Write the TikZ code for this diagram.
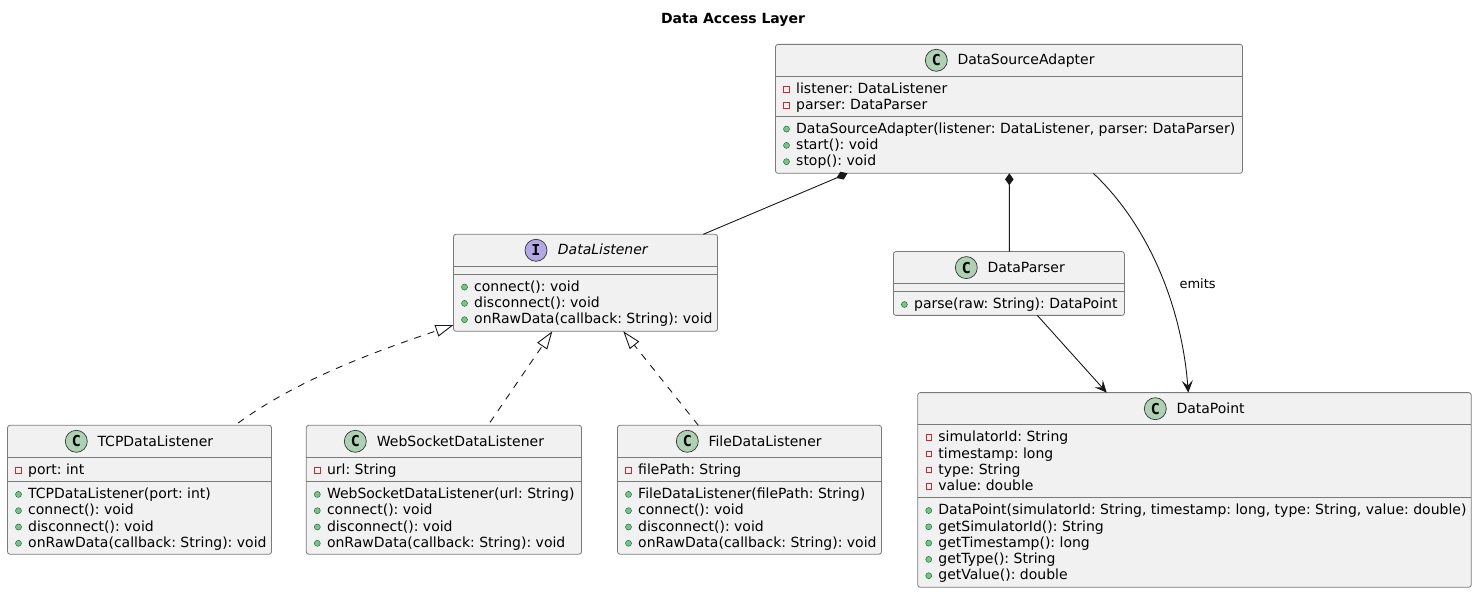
\documentclass[tikz,border=0pt]{standalone}
\usepackage{fontspec}
\setmainfont{DejaVu Sans}
\newfontfamily\iconfont{DejaVu Sans Mono}
\usetikzlibrary{arrows.meta,calc}
\definecolor{boxfill}{HTML}{F1F1F1}
\definecolor{boxline}{HTML}{7A7A7A}
\definecolor{edgeline}{HTML}{181818}
\definecolor{classicon}{HTML}{ADD1B2}
\definecolor{ifaceicon}{HTML}{B4A7E5}
\definecolor{privred}{HTML}{C82930}
\definecolor{pubfill}{HTML}{84BE84}
\definecolor{publine}{HTML}{038048}
\tikzset{
  umlframe/.style={draw=boxline,fill=boxfill,line width=0.8pt,rounded corners=2.5pt,inner sep=0pt,outer sep=0pt,anchor=north west},
  sepline/.style={draw=boxline,line width=0.8pt},
  iconbase/.style={circle,minimum size=22pt,inner sep=0pt,draw=edgeline!70!boxline,line width=0.7pt,font=\iconfont\bfseries\fontsize{15}{15}\selectfont},
  heading/.style={inner sep=0pt,anchor=base west,font=\fontsize{14}{16}\selectfont},
  member/.style={inner sep=0pt,anchor=base west,font=\fontsize{14}{16}\selectfont,text=black},
  privmark/.style={rectangle,minimum size=5.6pt,inner sep=0pt,draw=privred,line width=0.7pt},
  pubmark/.style={circle,minimum size=6pt,inner sep=0pt,draw=publine,fill=pubfill,line width=0.5pt},
  edge/.style={draw=edgeline,line width=0.9pt},
  composed/.style={edge,{Diamond[length=12pt,width=8.5pt]}-},
  arrowto/.style={edge,-{Stealth[length=12pt,width=11pt,inset=5pt]}},
  realize/.style={edge,dash pattern=on 7pt off 7pt,-{Triangle[open,length=18pt,width=12pt,fill=white]}},
}
\newcounter{rowc}
% id, left, top, right, bottom, header line y, divider y
\newcommand\umlframe[7]{%
  \pgfmathsetmacro\frW{#4-#2}\pgfmathsetmacro\frH{#5-#3}%
  \node[umlframe,minimum width=\frW pt,minimum height=\frH pt] (#1) at (#2,#3) {};
  \draw[sepline] (#2,#6) -- (#4,#6);
  \draw[sepline] (#2,#7) -- (#4,#7);
  \xdef\cL{#2}%
}
% id, icon x, icon y, name x, name baseline y, text
\newcommand\classhead[6]{%
  \node[iconbase,fill=classicon] (#1icon) at (#2,#3) {C};
  \node[heading] (#1name) at (#4,#5) {#6};
}
\newcommand\ifacehead[6]{%
  \node[iconbase,fill=ifaceicon] (#1icon) at (#2,#3) {I};
  \node[heading,font=\fontsize{14}{16}\selectfont\itshape] (#1name) at (#4,#5) {#6};
}
\newcommand\startrows[1]{\xdef\cY{#1}}
\newcommand\nextrow{\pgfmathsetmacro\tmpY{\cY+16.3}\xdef\cY{\tmpY}}
\newcommand\pv[1]{%
  \stepcounter{rowc}%
  \node[privmark] (mark\arabic{rowc}) at (\cL+11,\cY-4.4) {};
  \node[member] (row\arabic{rowc}) at (\cL+20.5,\cY) {#1};
  \nextrow
}
\newcommand\pb[1]{%
  \stepcounter{rowc}%
  \node[pubmark] (mark\arabic{rowc}) at (\cL+11,\cY-4.2) {};
  \node[member] (row\arabic{rowc}) at (\cL+20.5,\cY) {#1};
  \nextrow
}
\frenchspacing
\begin{document}
\begin{tikzpicture}[x=1pt,y=-1pt]
\useasboundingbox (0,0) rectangle (1477,593);
\node[inner sep=0pt,anchor=base,font=\bfseries\fontsize{14}{16}\selectfont] (title) at (733,24) {Data Access Layer};

\umlframe{dsa}{775.5}{44.4}{1242.5}{173.3}{76.3}{116}
\classhead{dsa}{936.3}{60.3}{957.3}{65}{DataSourceAdapter}
\startrows{93.6}\pv{listener: DataListener}\pv{parser: DataParser}
\startrows{133.3}\pb{DataSourceAdapter(listener: DataListener, parser: DataParser)}\pb{start(): void}\pb{stop(): void}

\umlframe{dl}{453.5}{234.3}{717.5}{331.3}{266.3}{274}
\ifacehead{dl}{536}{250.3}{557.7}{255}{DataListener}
\startrows{291.3}\pb{connect(): void}\pb{disconnect(): void}\pb{onRawData(callback: String): void}

\umlframe{dparser}{893.4}{251.6}{1124.4}{315.4}{283.4}{291.4}
\classhead{dparser}{966.3}{267.6}{987.3}{272.2}{DataParser}
\startrows{308.7}\pb{parse(raw: String): DataPoint}

\umlframe{dpoint}{917.7}{392.6}{1471.2}{587.3}{424.5}{497.4}
\classhead{dpoint}{1155.3}{408.7}{1176.3}{413.2}{DataPoint}
\startrows{441.8}\pv{simulatorId: String}\pv{timestamp: long}\pv{type: String}\pv{value: double}
\startrows{514.7}\pb{DataPoint(simulatorId: String, timestamp: long, type: String, value: double)}\pb{getSimulatorId(): String}\pb{getTimestamp(): long}\pb{getType(): String}\pb{getValue(): double}

\umlframe{tcp}{7.5}{425.3}{271.5}{554.2}{457.3}{481.3}
\classhead{tcp}{76.3}{441.3}{97.3}{446}{TCPDataListener}
\startrows{474.6}\pv{port: int}
\startrows{498.6}\pb{TCPDataListener(port: int)}\pb{connect(): void}\pb{disconnect(): void}\pb{onRawData(callback: String): void}

\umlframe{ws}{306.3}{425.3}{581.5}{554.2}{457.3}{481.3}
\classhead{ws}{355.3}{441.3}{376.7}{446}{WebSocketDataListener}
\startrows{474.6}\pv{url: String}
\startrows{498.6}\pb{WebSocketDataListener(url: String)}\pb{connect(): void}\pb{disconnect(): void}\pb{onRawData(callback: String): void}

\umlframe{file}{617.5}{425.3}{881.5}{554.2}{457.3}{481.3}
\classhead{file}{687.3}{441.3}{708.3}{446}{FileDataListener}
\startrows{474.6}\pv{filePath: String}
\startrows{498.6}\pb{FileDataListener(filePath: String)}\pb{connect(): void}\pb{disconnect(): void}\pb{onRawData(callback: String): void}

% composition
\draw[composed] ([xshift=72pt]dsa.south west) -- ([xshift=249.8pt]dl.north west);
\draw[composed] ([xshift=233.8pt]dsa.south west) -- ([xshift=115.9pt]dparser.north west);
% associations
\draw[arrowto] ([xshift=143.9pt]dparser.south west) -- ([xshift=189pt]dpoint.north west);
\draw[arrowto] ([xshift=317.8pt]dsa.south west) .. controls (1145,222) and (1181,300) .. ([xshift=270.6pt]dpoint.north west);
\node[inner sep=0pt,anchor=base west,font=\fontsize{13}{15}\selectfont] (emits) at (1179.3,288.3) {emits};
% realisations
\draw[realize,shorten <=4pt] ([xshift=227.5pt]tcp.north west) .. controls (300,378) and (380,350) .. ([yshift=6.3pt]dl.south west);
\draw[realize,shorten <=3.5pt] ([xshift=181.7pt]ws.north west) -- ([xshift=98.8pt]dl.south west);
\draw[realize] ([xshift=80.8pt]file.north west) -- ([xshift=169.8pt]dl.south west);
\end{tikzpicture}
\end{document}
